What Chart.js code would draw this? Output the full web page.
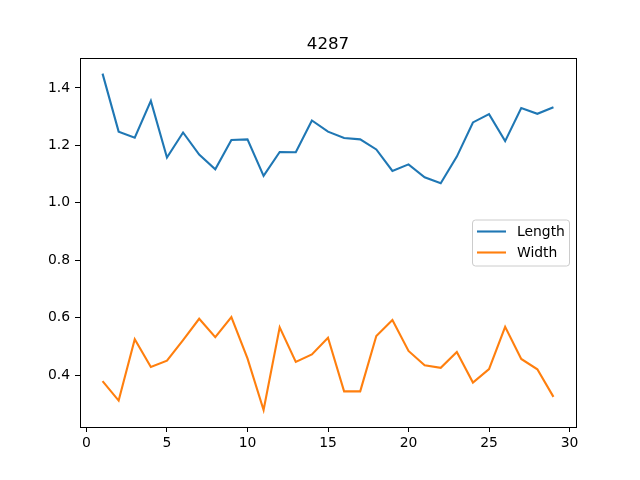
<!DOCTYPE html>
<html>
<head>
<meta charset="utf-8">
<script src="https://cdn.jsdelivr.net/npm/chart.js@4/dist/chart.umd.min.js"></script>
<style>
    html, body { margin: 0; padding: 0; background: #fff; }
    canvas { display: block; }
</style>
</head>
<body>
<canvas id="chart" width="640" height="480"></canvas>
<script>
// Data
const titleText = "4287";
const xValues = [1, 2, 3, 4, 5, 6, 7, 8, 9, 10, 11, 12, 13, 14, 15,
                 16, 17, 18, 19, 20, 21, 22, 23, 24, 25, 26, 27, 28, 29];
const lengthValues = [1.450, 1.248, 1.227, 1.355, 1.158, 1.245, 1.168, 1.117, 1.219, 1.221,
                      1.094, 1.177, 1.176, 1.287, 1.248, 1.226, 1.221, 1.186, 1.111, 1.134,
                      1.089, 1.068, 1.161, 1.280, 1.309, 1.215, 1.330, 1.310, 1.333];
const widthValues = [0.379, 0.311, 0.525, 0.428, 0.450, 0.522, 0.596, 0.532, 0.602, 0.458,
                     0.278, 0.566, 0.446, 0.472, 0.530, 0.343, 0.343, 0.536, 0.592, 0.484,
                     0.434, 0.425, 0.480, 0.374, 0.421, 0.568, 0.456, 0.420, 0.324];
const seriesNames = ["Length", "Width"];
const xTicks = [0, 5, 10, 15, 20, 25, 30];
const yTicks = [0.4, 0.6, 0.8, 1.0, 1.2, 1.4];

const FONT = "'DejaVu Sans', sans-serif";

// white background + axes frame + title + legend inside the plot
const framePlugin = {
    id: "frame",
    beforeDraw(chart) {
        const ctx = chart.ctx;
        ctx.save();
        ctx.fillStyle = "#fff";
        ctx.fillRect(0, 0, chart.width, chart.height);
        ctx.restore();
    },
    afterDraw(chart) {
        const ctx = chart.ctx;
        const a = chart.chartArea;
        ctx.save();
        ctx.strokeStyle = "#000";
        ctx.lineWidth = 1;
        ctx.strokeRect(Math.round(a.left) + 0.5, Math.round(a.top) + 0.5,
                       Math.round(a.right - a.left), Math.round(a.bottom - a.top));

        // title
        ctx.fillStyle = "#000";
        ctx.font = "16.7px " + FONT;
        ctx.textAlign = "center";
        ctx.textBaseline = "alphabetic";
        ctx.fillText(titleText, (a.left + a.right) / 2, a.top - 9);

        // legend, center right
        const ds = chart.data.datasets;
        const boxW = 97, rowH = 21, boxH = ds.length * rowH + 4;
        const bx = a.right - 7 - boxW;
        const by = (a.top + a.bottom) / 2 - boxH / 2;
        ctx.beginPath();
        ctx.roundRect(bx + 0.5, by + 0.5, boxW, boxH, 3);
        ctx.fillStyle = "rgba(255,255,255,0.8)";
        ctx.fill();
        ctx.strokeStyle = "#cccccc";
        ctx.stroke();
        ctx.font = "13.9px " + FONT;
        ctx.textAlign = "left";
        ctx.textBaseline = "middle";
        ds.forEach((d, i) => {
            const y = by + 12 + i * rowH;
            ctx.beginPath();
            ctx.moveTo(bx + 5, y);
            ctx.lineTo(bx + 34, y);
            ctx.strokeStyle = d.borderColor;
            ctx.lineWidth = 2.1;
            ctx.stroke();
            ctx.fillStyle = "#000";
            ctx.fillText(d.label, bx + 45, y + 1);
        });
        ctx.restore();
    }
};

const ctx = document.getElementById("chart").getContext("2d");
new Chart(ctx, {
    type: "line",
    data: {
        datasets: [
            {
                label: seriesNames[0],
                data: xValues.map((x, i) => ({ x: x, y: lengthValues[i] })),
                borderColor: "#1f77b4",
                borderWidth: 2.1,
                pointRadius: 0,
                tension: 0,
                fill: false
            },
            {
                label: seriesNames[1],
                data: xValues.map((x, i) => ({ x: x, y: widthValues[i] })),
                borderColor: "#ff7f0e",
                borderWidth: 2.1,
                pointRadius: 0,
                tension: 0,
                fill: false
            }
        ]
    },
    options: {
        responsive: false,
        animation: false,
        devicePixelRatio: 1,
        layout: { padding: { top: 58, right: 64, left: 0, bottom: 0 } },
        plugins: {
            legend: { display: false },
            title: { display: false },
            tooltip: { enabled: false }
        },
        scales: {
            x: {
                type: "linear",
                min: -0.4,
                max: 30.4,
                afterFit: (scale) => { scale.height = 53; },
                afterBuildTicks: (scale) => { scale.ticks = xTicks.map(v => ({ value: v })); },
                grid: { drawOnChartArea: false, drawTicks: true, tickLength: 5, tickColor: "#000" },
                border: { display: false },
                ticks: {
                    color: "#000",
                    font: { family: FONT, size: 13.9 },
                    padding: 3,
                    maxRotation: 0,
                    callback: (v) => String(v)
                }
            },
            y: {
                type: "linear",
                min: 0.219,
                max: 1.5045,
                afterFit: (scale) => { scale.width = 80; },
                afterBuildTicks: (scale) => { scale.ticks = yTicks.map(v => ({ value: v })); },
                grid: { drawOnChartArea: false, drawTicks: true, tickLength: 5, tickColor: "#000" },
                border: { display: false },
                ticks: {
                    color: "#000",
                    font: { family: FONT, size: 13.9 },
                    padding: 5,
                    callback: (v) => v.toFixed(1)
                }
            }
        }
    },
    plugins: [framePlugin]
});
</script>
</body>
</html>
